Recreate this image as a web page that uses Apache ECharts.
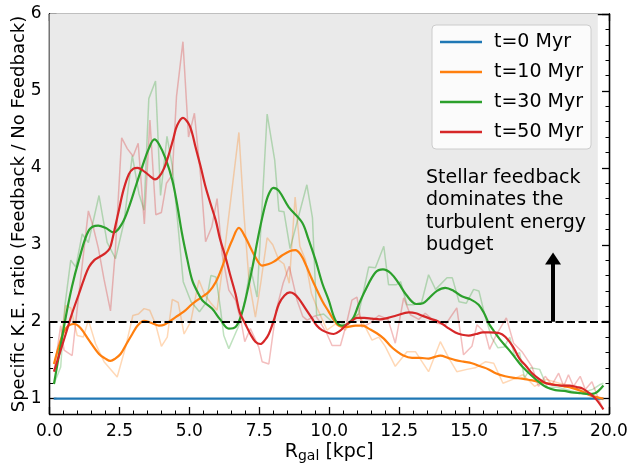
<!DOCTYPE html>
<html><head><meta charset="utf-8">
<script src="https://cdn.jsdelivr.net/npm/echarts@6/dist/echarts.min.js"></script>
<style>html,body{margin:0;padding:0;background:#fff}#c{width:629px;height:464px}</style>
</head><body><div id="c"></div>
<script>
// ---- data ----
const seriesNames = ['t=0 Myr','t=10 Myr','t=30 Myr','t=50 Myr'];
const xTicks = [0, 2.5, 5, 7.5, 10, 12.5, 15, 17.5, 20];
const yMajor = [1, 2, 3, 4, 5, 6];
const yMinor = [1.2,1.4,1.6,1.8,2.2,2.4,2.6,2.8,3.2,3.4,3.6,3.8,4.2,4.4,4.6,4.8,5.2,5.4,5.6,5.8];
const threshold = 2;
const arrowX = 18;
const arrowTop = 2.82;
const annotation = 'Stellar feedback\ndominates the\nturbulent energy\nbudget';

const t0X = [0.15, 19.8];
const t0Y = [1.0, 1.0];

const raw10X = [0.16,0.35,0.58,0.76,0.99,1.21,1.39,1.65,1.95,2.42,2.72,2.98,3.18,3.38,3.58,3.79,4.00,4.21,4.39,4.60,4.81,5.05,5.34,5.55,5.75,5.99,6.20,6.45,6.77,6.95,7.13,7.36,7.55,7.78,7.98,8.20,8.38,8.57,8.78,8.95,9.15,9.36,9.60,9.92,10.22,10.58,10.81,11.05,11.29,11.53,11.77,12.00,12.36,12.78,13.08,13.55,13.97,14.27,14.56,14.92,15.22,15.59,15.88,16.21,16.56,16.92,17.34,17.76,18.23,18.70,19.20,19.66,19.80];
const raw10Y = [1.45,1.65,2.21,2.18,1.82,1.80,2.02,1.71,1.48,1.28,1.67,2.08,2.10,2.17,2.15,1.97,1.68,1.80,2.29,2.25,1.84,2.00,2.54,2.35,2.25,2.15,2.75,3.50,4.46,3.40,2.54,2.06,2.50,3.09,3.00,2.80,2.75,2.50,3.62,2.98,2.80,2.37,2.15,1.89,1.97,1.89,2.02,2.10,1.93,1.76,1.80,1.68,1.42,1.61,1.61,1.35,1.74,1.53,1.35,1.38,1.40,1.48,1.46,1.20,1.25,1.31,1.16,1.25,1.20,1.16,1.08,1.01,0.98];

const raw30X = [0.16,0.40,0.55,0.76,0.94,1.17,1.39,1.77,2.06,2.36,2.66,2.96,3.20,3.38,3.55,3.79,3.97,4.20,4.39,4.58,4.78,5.06,5.36,5.60,5.77,5.95,6.10,6.23,6.41,6.77,7.00,7.18,7.42,7.78,8.05,8.20,8.38,8.60,9.20,9.40,9.55,9.80,10.10,10.34,10.60,10.85,11.05,11.41,11.65,11.95,12.12,12.40,12.55,12.78,13.00,13.30,13.55,13.80,14.21,14.40,14.64,14.90,15.16,15.35,15.55,15.80,16.03,16.25,16.45,16.63,16.80,16.98,17.20,17.52,17.80,18.10,18.47,18.95,19.42,19.66,19.80];
const raw30Y = [1.19,1.41,2.21,2.80,2.71,3.14,3.03,3.64,3.03,2.82,3.29,4.16,3.66,3.45,4.90,5.13,3.64,4.41,4.02,3.30,2.52,2.26,2.13,2.25,2.60,2.58,2.20,1.82,1.65,1.95,2.30,2.71,2.32,4.70,4.10,3.44,3.43,2.95,3.78,3.35,2.08,2.10,2.00,2.00,1.96,2.05,2.10,2.71,2.70,2.98,2.48,2.48,2.52,2.22,2.22,2.25,2.61,2.42,2.57,2.57,2.26,2.24,2.42,2.40,2.10,1.80,1.66,1.67,1.80,1.55,1.60,1.27,1.40,1.38,1.14,1.15,1.12,1.07,1.12,1.18,1.20];

const raw50X = [0.16,0.40,0.52,0.81,1.00,1.39,1.55,1.75,1.95,2.18,2.35,2.58,2.78,2.99,3.17,3.39,3.59,3.80,4.00,4.18,4.39,4.54,4.77,4.97,5.18,5.40,5.58,5.80,5.99,6.17,6.41,6.65,6.85,6.98,7.18,7.48,7.60,7.84,8.10,8.35,8.57,8.85,9.05,9.21,9.51,9.75,9.92,10.10,10.40,10.60,10.81,10.99,11.17,11.45,11.77,12.10,12.36,12.66,12.90,13.20,13.43,13.85,14.15,14.56,14.80,15.10,15.28,15.58,15.73,15.97,16.33,16.59,16.89,17.24,17.48,17.72,17.96,18.20,18.38,18.55,18.73,18.97,19.15,19.39,19.63,19.80];
const raw50Y = [1.35,1.95,1.63,1.56,2.20,3.44,3.25,2.95,2.55,2.14,2.90,4.39,4.25,4.15,4.32,3.27,4.62,3.39,3.42,3.80,3.91,4.93,5.64,4.40,4.71,3.90,3.04,3.23,3.60,2.88,2.41,2.28,2.00,1.74,1.91,1.67,1.48,1.45,2.14,2.50,2.72,2.28,2.07,2.02,2.08,1.95,1.84,1.69,1.69,1.95,2.28,2.32,1.93,1.98,2.08,2.03,1.72,2.31,2.09,2.03,2.11,1.98,1.96,2.18,1.57,1.68,1.96,1.85,1.64,1.83,2.05,1.72,1.61,1.42,1.16,1.29,1.18,1.33,1.16,1.31,1.16,1.29,1.12,1.22,0.99,0.86];

const sm10X = [0.16,0.35,0.58,0.88,1.10,1.41,1.77,2.00,2.18,2.35,2.54,2.75,2.96,3.15,3.38,3.60,3.91,4.10,4.51,4.80,5.10,5.40,5.70,5.95,6.17,6.35,6.53,6.77,7.00,7.20,7.36,7.60,7.84,8.02,8.31,8.60,8.79,9.00,9.15,9.35,9.51,9.75,9.98,10.15,10.34,10.60,10.94,11.20,11.41,11.70,11.95,12.20,12.36,12.65,12.96,13.25,13.55,13.75,13.97,14.25,14.51,14.80,15.10,15.40,15.70,15.95,16.29,16.60,16.89,17.20,17.48,17.80,18.08,18.40,18.67,19.00,19.27,19.55,19.80];
const sm10Y = [1.45,1.70,1.91,1.97,1.92,1.76,1.58,1.52,1.49,1.52,1.58,1.71,1.84,1.95,2.01,1.99,1.95,1.96,2.06,2.13,2.23,2.31,2.39,2.52,2.71,2.90,3.06,3.22,3.10,2.95,2.84,2.73,2.75,2.78,2.86,2.92,2.93,2.86,2.75,2.58,2.45,2.27,2.13,2.03,1.95,1.93,1.95,1.95,1.91,1.85,1.78,1.68,1.63,1.56,1.53,1.53,1.52,1.54,1.56,1.53,1.50,1.48,1.46,1.42,1.38,1.33,1.29,1.27,1.26,1.24,1.22,1.20,1.18,1.16,1.14,1.10,1.05,1.02,1.00];

const sm30X = [0.16,0.55,0.80,1.05,1.41,1.74,2.00,2.30,2.60,2.84,3.10,3.31,3.55,3.75,3.91,4.15,4.39,4.55,4.74,4.92,5.10,5.30,5.46,5.81,6.10,6.41,6.65,6.85,7.00,7.25,7.48,7.70,7.84,8.00,8.20,8.55,9.03,9.25,9.51,9.75,9.98,10.22,10.46,10.81,11.05,11.29,11.65,11.92,12.20,12.48,12.75,13.11,13.35,13.55,13.85,14.15,14.45,14.74,15.05,15.34,15.55,15.70,15.88,16.10,16.41,16.65,16.89,17.20,17.48,17.75,18.08,18.40,18.67,19.00,19.27,19.50,19.80];
const sm30Y = [1.19,2.00,2.45,2.80,3.19,3.25,3.22,3.16,3.28,3.49,3.78,4.01,4.25,4.37,4.31,4.12,3.84,3.55,3.14,2.82,2.54,2.38,2.28,2.17,2.03,1.91,1.93,2.08,2.28,2.70,3.14,3.50,3.66,3.74,3.70,3.49,3.29,3.08,2.80,2.50,2.28,2.02,1.95,2.02,2.22,2.41,2.64,2.68,2.63,2.50,2.35,2.23,2.24,2.30,2.40,2.44,2.40,2.33,2.29,2.22,2.10,1.98,1.88,1.77,1.64,1.53,1.42,1.31,1.22,1.15,1.11,1.10,1.08,1.07,1.06,1.07,1.17];

const sm50X = [0.16,0.58,0.80,1.05,1.25,1.41,1.60,1.77,2.00,2.15,2.24,2.48,2.65,2.84,3.00,3.15,3.43,3.60,3.77,3.91,4.09,4.27,4.42,4.56,4.77,4.98,5.10,5.22,5.40,5.58,5.76,5.94,6.10,6.29,6.45,6.65,6.80,7.00,7.18,7.36,7.54,7.70,7.84,8.02,8.20,8.40,8.59,8.75,8.91,9.15,9.39,9.55,9.74,10.00,10.16,10.38,10.58,10.80,10.99,11.25,11.53,11.80,12.10,12.40,12.84,13.10,13.31,13.60,13.91,14.20,14.51,14.75,14.98,15.25,15.49,15.70,16.09,16.30,16.56,16.80,17.04,17.25,17.52,17.75,17.99,18.30,18.59,18.85,19.06,19.30,19.54,19.80];
const sm50Y = [1.35,1.84,2.10,2.36,2.57,2.71,2.80,2.84,2.89,2.95,3.06,3.45,3.72,3.92,3.99,4.00,3.94,3.89,3.85,3.88,3.99,4.18,4.37,4.55,4.65,4.57,4.45,4.27,4.02,3.75,3.53,3.32,3.07,2.84,2.62,2.36,2.12,1.97,1.84,1.74,1.71,1.76,1.84,2.02,2.23,2.34,2.38,2.36,2.30,2.17,2.04,1.95,1.89,1.85,1.84,1.88,1.95,2.01,2.05,2.05,2.04,2.03,2.05,2.08,2.12,2.11,2.08,2.04,2.00,1.93,1.86,1.83,1.82,1.84,1.86,1.86,1.85,1.80,1.68,1.52,1.42,1.33,1.25,1.20,1.18,1.17,1.17,1.15,1.13,1.07,0.99,0.86];

// ---- build ----
const zip = (xs, ys) => xs.map((x, i) => [x, ys[i]]);
const C = {blue:'#1f77b4', orange:'#ff7f0e', green:'#2ca02c', red:'#d62728'};
const FONT = 'DejaVu Sans';

const chart = echarts.init(document.getElementById('c'), null, {renderer:'canvas'});

function xAx(pos, show){
  return {type:'value', min:0, max:20, interval:2.5, position:pos,
    axisLine:{show:true, onZero:false, lineStyle:{color:'#000', width:1.3}},
    axisTick:{show:true, inside:true, length:7, lineStyle:{color:'#000', width:1.3}},
    minorTick:{show:true, splitNumber:5, length:3.5, lineStyle:{color:'#000', width:1}},
    axisLabel:{show:show, color:'#000', fontFamily:FONT, fontSize:17, margin:9,
      formatter:v=>v.toFixed(1)},
    splitLine:{show:false}, minorSplitLine:{show:false},
    name: show ? '{a|R}{s|gal}{a| [kpc]}' : '', nameLocation:'middle', nameGap:27, nameMoveOverlap:false,
    nameTextStyle:{rich:{a:{fontFamily:FONT,fontSize:19,color:'#000'}, s:{fontFamily:FONT,fontSize:14,color:'#000',verticalAlign:'bottom',padding:[8,0,0,0]}}}
  };
}
function yAx(pos, ticks, len, label){
  return {type:'value', min:0.8, max:6, position:pos,
    axisLine:{show:true, onZero:false, lineStyle:{color:'#000', width:1.3}},
    axisTick:{show:true, inside:true, length:len, customValues:ticks, lineStyle:{color:'#000', width:len>5?1.3:1}},
    axisLabel:{show:label, customValues:ticks, color:'#000', fontFamily:FONT, fontSize:17, margin:8},
    splitLine:{show:false},
    name: label ? 'Specific K.E. ratio (Feedback / No Feedback)' : '', nameLocation:'middle', nameGap:21, nameMoveOverlap:false,
    nameTextStyle:{fontFamily:FONT, fontSize:18, color:'#000'}
  };
}

const series = [];
series.push({type:'line', data:[], xAxisIndex:0, yAxisIndex:0, z:0, silent:true,
  markArea:{silent:true, itemStyle:{color:'#eaeaea'}, data:[[{coord:[0, threshold]},{coord:[19.6, 6]}]]}
});
const rawStyle = (c)=>({type:'line', showSymbol:false, symbol:'none', lineStyle:{width:1.5, color:c, opacity:0.3}, z:2, silent:true});
series.push(Object.assign(rawStyle(C.orange), {name:'raw10', data:zip(raw10X, raw10Y)}));
series.push(Object.assign(rawStyle(C.green), {name:'raw30', data:zip(raw30X, raw30Y)}));
series.push(Object.assign(rawStyle(C.red), {name:'raw50', data:zip(raw50X, raw50Y)}));
series.push({name:seriesNames[0], type:'line', showSymbol:false, symbol:'none', data:zip(t0X,t0Y), lineStyle:{width:2.2, color:C.blue}, itemStyle:{color:C.blue}, z:3});
series.push({name:seriesNames[1], type:'line', showSymbol:false, symbol:'none', smooth:0.35, data:zip(sm10X,sm10Y), lineStyle:{width:2.2, color:C.orange}, itemStyle:{color:C.orange}, z:3});
series.push({name:seriesNames[2], type:'line', showSymbol:false, symbol:'none', smooth:0.35, data:zip(sm30X,sm30Y), lineStyle:{width:2.2, color:C.green}, itemStyle:{color:C.green}, z:3});
series.push({name:seriesNames[3], type:'line', showSymbol:false, symbol:'none', smooth:0.35, data:zip(sm50X,sm50Y), lineStyle:{width:2.2, color:C.red}, itemStyle:{color:C.red}, z:3});
series.push({type:'line', data:[], z:4, silent:true,
  markLine:{silent:true, symbol:['none','none'], label:{show:false},
    lineStyle:{color:'#000', width:2, type:[8,3.5]},
    data:[[{coord:[0, threshold]},{coord:[20, threshold]}]]}
});
series.push({type:'line', data:[], z:5, silent:true,
  markLine:{silent:true, symbol:['none','triangle'], symbolSize:[16,12], label:{show:false},
    lineStyle:{color:'#000', width:4, type:'solid'}, itemStyle:{color:'#000'},
    data:[[{coord:[arrowX, threshold]},{coord:[arrowX, arrowTop]}]]}
});

chart.setOption({
  animation:false,
  backgroundColor:'#fff',
  grid:{left:49.5, right:20, top:14, bottom:50, containLabel:false, outerBoundsMode:'none'},
  xAxis:[xAx('bottom', true), xAx('top', false)],
  yAxis:[yAx('left', yMajor, 7, true), yAx('left', yMinor, 3.5, false), yAx('right', yMajor, 7, false), yAx('right', yMinor, 3.5, false)],
  legend:{data:seriesNames, left:432, top:25, orient:'vertical', icon:'rect', itemWidth:42, itemHeight:2.5, itemGap:10,
    padding:[7,8,7,8], backgroundColor:'rgba(255,255,255,0.8)', borderColor:'#cccccc', borderWidth:1, borderRadius:4,
    textStyle:{fontFamily:FONT, fontSize:19, color:'#000', lineHeight:20, padding:[0,0,0,7]}},
  graphic:{elements:[{type:'text', left:426, top:167, z:100,
    style:{text:annotation, fontFamily:FONT, fontSize:19, fill:'#000', lineHeight:22.3}}]},
  series: series
});
</script></body></html>
